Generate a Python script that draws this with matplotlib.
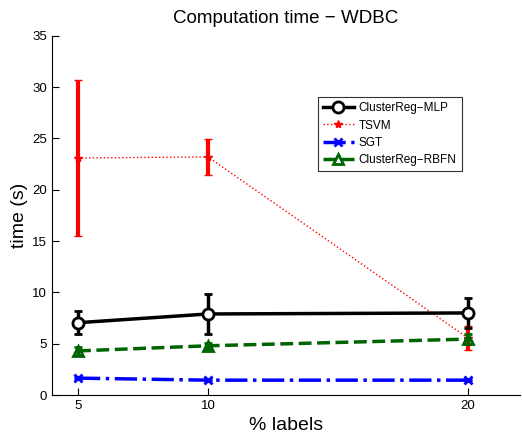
import matplotlib
matplotlib.use("Agg")
import matplotlib.pyplot as plt
from matplotlib.lines import Line2D

plt.rcParams['font.family'] = ['Liberation Sans', 'DejaVu Sans']

labels_pct = [5, 10, 20]

mlp_mean = [7.05, 7.9, 8.0]
mlp_err = [1.1, 1.95, 1.45]

tsvm_mean = [23.1, 23.2, 5.55]
tsvm_err = [7.6, 1.75, 1.15]

sgt_mean = [1.65, 1.45, 1.45]
sgt_err = [0.1, 0.08, 0.08]

rbfn_mean = [4.3, 4.8, 5.45]
rbfn_err = [0.4, 0.3, 0.45]

series_names = ['ClusterReg\u2212MLP', 'TSVM', 'SGT', 'ClusterReg\u2212RBFN']

styles = {
    'mlp': dict(color='black', ls='-', lw=2.5, marker='o', ms=8, mfc='white', mew=2),
    'tsvm': dict(color='red', ls=':', lw=1, marker='*', ms=6, mew=1),
    'sgt': dict(color='blue', ls='-.', lw=2.5, marker='x', ms=6, mew=2),
    'rbfn': dict(color='#006400', ls='--', lw=2.5, marker='^', ms=7, mfc='none', mew=2),
}

fig = plt.figure(figsize=(5.22, 4.37), dpi=100)
ax = fig.add_axes([0.0996, 0.096, 0.8966, 0.822])

ax.errorbar(labels_pct, tsvm_mean, yerr=tsvm_err, elinewidth=3, capsize=3,
            capthick=3, zorder=2, **styles['tsvm'])
ax.errorbar(labels_pct, mlp_mean, yerr=mlp_err, elinewidth=2.5, capsize=3,
            capthick=2.5, zorder=4, **styles['mlp'])
ax.errorbar(labels_pct, sgt_mean, yerr=sgt_err, elinewidth=2.5, capsize=3,
            capthick=2.5, zorder=3, **styles['sgt'])
ax.errorbar(labels_pct, rbfn_mean, yerr=rbfn_err, elinewidth=2.5, capsize=3,
            capthick=2.5, zorder=3, **styles['rbfn'])

ax.set_xlim(4, 22)
ax.set_ylim(0, 35)
ax.set_xticks(labels_pct)
ax.set_yticks(range(0, 36, 5))
ax.tick_params(direction='in', length=5, labelsize=9.5)
ax.spines['top'].set_visible(False)
ax.spines['right'].set_visible(False)

ax.set_title('Computation time \u2212 WDBC', fontsize=13.5, pad=9)
ax.set_xlabel('% labels', fontsize=14, labelpad=4)
ax.set_ylabel('time (s)', fontsize=14, labelpad=3)

proxies = [Line2D([], [], **styles[k]) for k in ('mlp', 'tsvm', 'sgt', 'rbfn')]
leg = ax.legend(proxies, series_names,
                loc='upper left', bbox_to_anchor=(0.568, 0.83), fontsize=8.5,
                frameon=True, fancybox=False, edgecolor='black',
                handlelength=2.6, handletextpad=0.4, borderpad=0.45,
                labelspacing=0.45, borderaxespad=0)
leg.get_frame().set_linewidth(0.8)

fig.savefig('out.png', dpi=100)
